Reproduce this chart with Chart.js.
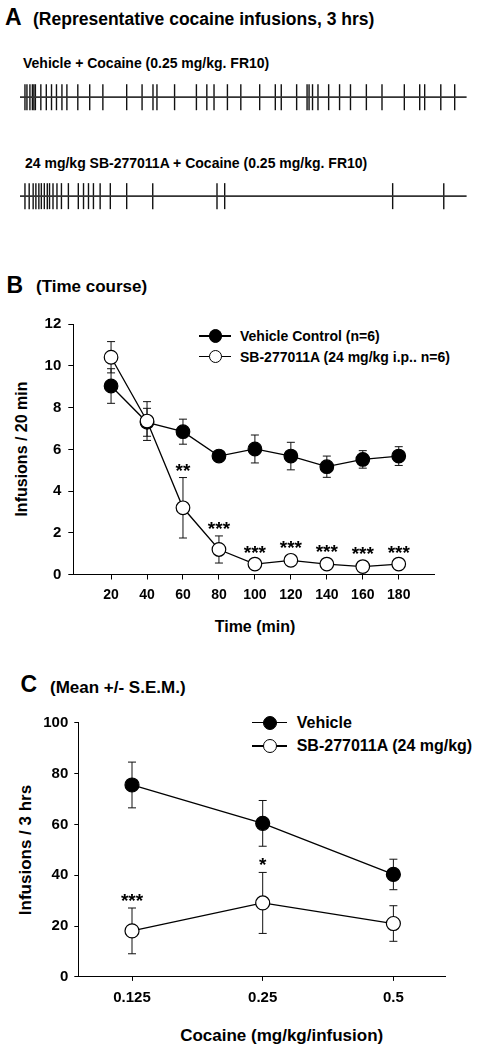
<!DOCTYPE html>
<html><head><meta charset="utf-8">
<script src="https://cdn.jsdelivr.net/npm/chart.js@4.4.1/dist/chart.umd.min.js"></script>
<style>
html,body{margin:0;padding:0;background:#fff;}
body{width:481px;height:1050px;position:relative;overflow:hidden;font-family:"Liberation Sans",Arial,sans-serif;font-weight:bold;color:#000;}
.t{position:absolute;white-space:nowrap;line-height:1;}
.rot{position:absolute;white-space:nowrap;line-height:1;transform:translate(-50%,-50%) rotate(-90deg);}
canvas{position:absolute;left:0;}
.lgline{position:absolute;height:1.5px;background:#000;}
.lgdot{position:absolute;border-radius:50%;border:1.2px solid #000;box-sizing:border-box;}
</style></head><body>

<div class="t" style="left:5px;top:6px;font-size:23px;">A</div>
<div class="t" style="left:33px;top:11px;font-size:17.5px;">(Representative cocaine infusions, 3 hrs)</div>
<div class="t" style="left:23px;top:56px;font-size:14px;">Vehicle + Cocaine (0.25 mg/kg. FR10)</div>
<div class="t" style="left:25px;top:156px;font-size:14px;">24 mg/kg SB-277011A + Cocaine (0.25 mg/kg. FR10)</div>

<div class="t" style="left:6.5px;top:273.5px;font-size:23px;">B</div>
<div class="t" style="left:36px;top:278px;font-size:17px;">(Time course)</div>
<div class="rot" style="left:21.7px;top:449.4px;font-size:16px;">Infusions / 20 min</div>
<div class="t" style="left:255px;top:619px;font-size:16px;transform:translateX(-50%);">Time (min)</div>

<div class="t" style="left:20.5px;top:672.5px;font-size:23px;">C</div>
<div class="t" style="left:50px;top:678.8px;font-size:17px;">(Mean +/- S.E.M.)</div>
<div class="rot" style="left:24.5px;top:849.7px;font-size:17px;">Infusions / 3 hrs</div>
<div class="t" style="left:281.7px;top:1026.5px;font-size:17px;transform:translateX(-50%);">Cocaine (mg/kg/infusion)</div>

<div id="legB"></div>
<div id="legC"></div>

<canvas id="chartA" width="481" height="260" style="top:0px"></canvas>
<canvas id="chartB" width="481" height="345" style="top:300px"></canvas>
<canvas id="chartC" width="481" height="350" style="top:700px"></canvas>

<script>
// ---------- DATA ----------
// Panel A: infusion event times (minutes within the 180-min session)
const rasterSpan = [0, 180];
const vehicleInfusionTimes = [2.0, 2.8, 4.0, 5.0, 5.6, 6.2, 8.4, 10.6, 12.7, 14.7, 16.9, 18.9, 23.3, 28.1, 33.4,
  43.0, 49.2, 53.6, 55.2, 62.3, 71.1, 75.3, 78.2, 83.6, 89.0, 96.6, 102.9, 105.3, 111.5, 115.7, 116.5, 117.9,
  120.1, 124.4, 128.8, 133.2, 139.6, 145.9, 154.9, 161.1, 163.1, 169.6, 175.2];
const sbInfusionTimes = [2.0, 3.7, 5.3, 6.4, 7.6, 8.6, 9.8, 11.0, 11.9, 13.3, 14.9, 16.7, 19.5, 23.5, 25.6, 27.6,
  29.6, 32.3, 36.4, 43.0, 53.5, 79.4, 82.5, 150.2, 170.8];

// Panel B: time course
const timeLabels = [20, 40, 60, 80, 100, 120, 140, 160, 180];
const vehicleMean = [9.04, 7.3, 6.85, 5.68, 6.02, 5.68, 5.17, 5.52, 5.68];
const vehicleSem  = [0.83, 0.67, 0.6, 0.25, 0.67, 0.66, 0.51, 0.42, 0.45];
const sbMean = [10.42, 7.36, 3.2, 1.2, 0.5, 0.68, 0.5, 0.38, 0.5];
const sbSem  = [0.75, 0.93, 1.45, 0.65, 0.2, 0.25, 0.25, 0.25, 0.2];
const sbStars = ['', '', '**', '***', '***', '***', '***', '***', '***'];
const yTicksB = [0, 2, 4, 6, 8, 10, 12];

// Panel C: dose response
const doseLabels = ['0.125', '0.25', '0.5'];
const vehicleDoseMean = [75.5, 60.4, 40.3];
const vehicleDoseSem  = [9, 9, 6];
const sbDoseMean = [18.1, 29.1, 21];
const sbDoseSem  = [9, 12, 7];
const sbDoseStars = ['***', '*', ''];
const yTicksC = [0, 20, 40, 60, 80, 100];

const legendB = ['Vehicle Control (n=6)', 'SB-277011A (24 mg/kg i.p.. n=6)'];
const legendC = ['Vehicle', 'SB-277011A (24 mg/kg)'];

// ---------- HELPERS ----------
const FONT = '"Liberation Sans", Arial, sans-serif';
const base = {responsive:false, animation:false, devicePixelRatio:1, events:[],
  plugins:{legend:{display:false}, tooltip:{enabled:false}}};

const errorBars = {
  id:'errorBars',
  beforeDatasetsDraw(chart){
    const ctx = chart.ctx, xs = chart.scales.x, ys = chart.scales.y;
    chart.data.datasets.forEach(ds => {
      if(!ds.errors) return;
      ctx.save(); ctx.strokeStyle = '#111'; ctx.lineWidth = 1;
      ds.data.forEach((p, i) => {
        const e = ds.errors[i]; if(!e) return;
        const x = xs.getPixelForValue(p.x), yt = ys.getPixelForValue(p.y + e), yb = ys.getPixelForValue(p.y - e);
        const c = ds.capHalf || 4;
        ctx.beginPath();
        ctx.moveTo(x, yt); ctx.lineTo(x, yb);
        ctx.moveTo(x - c, yt); ctx.lineTo(x + c, yt);
        ctx.moveTo(x - c, yb); ctx.lineTo(x + c, yb);
        ctx.stroke();
      });
      ctx.restore();
    });
  },
  afterDatasetsDraw(chart){
    const ctx = chart.ctx, xs = chart.scales.x, ys = chart.scales.y;
    chart.data.datasets.forEach(ds => {
      if(!ds.stars) return;
      ctx.save(); ctx.fillStyle = '#000'; ctx.font = 'bold 19px ' + FONT;
      ctx.textAlign = 'center'; ctx.textBaseline = 'alphabetic';
      ds.data.forEach((p, i) => {
        const s = ds.stars[i]; if(!s) return;
        const x = xs.getPixelForValue(p.x), yt = ys.getPixelForValue(p.y + (ds.errors[i] || 0));
        ctx.fillText(s, x, yt - 1);
      });
      ctx.restore();
    });
  }
};

function axisStyle(tickLen, pad, size){
  return {
    border:{display:true, color:'#000', width:1},
    grid:{display:true, drawOnChartArea:false, drawTicks:true, tickLength:tickLen, color:'#000', lineWidth:1},
    ticks:{color:'#000', padding:pad, font:{family:FONT, weight:'bold', size:size}}
  };
}

function legend(elId, labels, cfg){
  const host = document.getElementById(elId);
  labels.forEach((lab, i) => {
    const y = cfg.rows[i];
    const ln = document.createElement('div'); ln.className = 'lgline';
    ln.style.left = cfg.x0 + 'px'; ln.style.width = (cfg.x1 - cfg.x0) + 'px'; ln.style.top = (y - 0.75) + 'px';
    host.appendChild(ln);
    const d = document.createElement('div'); d.className = 'lgdot';
    d.style.width = d.style.height = (cfg.r * 2) + 'px';
    d.style.left = (cfg.cx - cfg.r) + 'px'; d.style.top = (y - cfg.r) + 'px';
    d.style.background = i === 0 ? '#000' : '#fff';
    host.appendChild(d);
    const t = document.createElement('div'); t.className = 't';
    t.style.left = cfg.tx + 'px'; t.style.top = (y - cfg.fs / 2) + 'px'; t.style.fontSize = cfg.fs + 'px';
    t.textContent = lab;
    host.appendChild(t);
  });
}
legend('legB', legendB, {rows:[336, 356.7], x0:199, x1:231, cx:215.7, r:6.8, tx:240, fs:14});
legend('legC', legendC, {rows:[722.7, 746], x0:252.3, x1:287.3, cx:270, r:7, tx:296.7, fs:16});

// ---------- PANEL A (raster) ----------
function rasterSets(times, row){
  return [
    {type:'line', data: rasterSpan.map(x => ({x, y:row})), borderColor:'#333', borderWidth:1.8, pointRadius:0, clip:false},
    {type:'scatter', data: times.map(x => ({x, y:row})), pointStyle:'line', rotation:90, pointRadius:13,
     borderColor:'#111', pointBorderColor:'#111', borderWidth:1.4, pointBorderWidth:1.4, clip:false}
  ];
}
new Chart(document.getElementById('chartA'), {
  type:'scatter',
  data:{datasets:[...rasterSets(vehicleInfusionTimes, 1), ...rasterSets(sbInfusionTimes, 2)]},
  options:Object.assign({}, base, {
    layout:{padding:{left:20, right:9, top:47.75, bottom:7.25}},
    scales:{
      x:{type:'linear', display:false, min:rasterSpan[0], max:rasterSpan[1]},
      y:{type:'linear', display:false, reverse:true, min:0.5, max:2.5}
    }
  })
});

// ---------- PANEL B ----------
new Chart(document.getElementById('chartB'), {
  type:'line',
  data:{datasets:[
    {label:legendB[1], data: timeLabels.map((x, i) => ({x, y:sbMean[i]})), errors:sbSem, stars:sbStars,
     borderColor:'#000', borderWidth:1.3, pointRadius:6.8, pointBackgroundColor:'#fff', pointBorderColor:'#000',
     pointBorderWidth:1.2, order:0, clip:false},
    {label:legendB[0], data: timeLabels.map((x, i) => ({x, y:vehicleMean[i]})), errors:vehicleSem,
     borderColor:'#000', borderWidth:1.3, pointRadius:6.8, pointBackgroundColor:'#000', pointBorderColor:'#000',
     pointBorderWidth:1.2, order:1, clip:false}
  ]},
  options:Object.assign({}, base, {
    layout:{padding:{left:0, right:46.3, top:24.3, bottom:0}},
    scales:{
      x:Object.assign(axisStyle(5, 7.1, 14), {type:'linear', min:-1, max:200,
        afterBuildTicks:s => { s.ticks = timeLabels.map(v => ({value:v})); },
        afterFit:s => { s.height = 70.5; }}),
      y:Object.assign(axisStyle(5, 7, 15), {type:'linear', min:0, max:12,
        afterBuildTicks:s => { s.ticks = yTicksB.map(v => ({value:v})); },
        afterFit:s => { s.width = 73.3; }})
    }
  }),
  plugins:[errorBars]
});

// ---------- PANEL C ----------
new Chart(document.getElementById('chartC'), {
  type:'line',
  data:{datasets:[
    {label:legendC[1], data: doseLabels.map((d, i) => ({x:i, y:sbDoseMean[i]})), errors:sbDoseSem, stars:sbDoseStars,
     borderColor:'#000', borderWidth:1.3, pointRadius:7, pointBackgroundColor:'#fff', pointBorderColor:'#000',
     pointBorderWidth:1.2, order:0, clip:false},
    {label:legendC[0], data: doseLabels.map((d, i) => ({x:i, y:vehicleDoseMean[i]})), errors:vehicleDoseSem,
     borderColor:'#000', borderWidth:1.3, pointRadius:7, pointBackgroundColor:'#000', pointBorderColor:'#000',
     pointBorderWidth:1.2, order:1, clip:false}
  ]},
  options:Object.assign({}, base, {
    layout:{padding:{left:0, right:36, top:22.7, bottom:0}},
    scales:{
      x:Object.assign(axisStyle(4, 8.4, 15), {type:'linear', min:-0.411, max:2.395,
        afterBuildTicks:s => { s.ticks = doseLabels.map((d, i) => ({value:i})); },
        ticks:Object.assign(axisStyle(4, 8.4, 15).ticks, {callback:v => doseLabels[v]}),
        afterFit:s => { s.height = 73.1; }}),
      y:Object.assign(axisStyle(4, 6, 15), {type:'linear', min:0, max:100,
        afterBuildTicks:s => { s.ticks = yTicksC.map(v => ({value:v})); },
        afterFit:s => { s.width = 78.3; }})
    }
  }),
  plugins:[errorBars]
});
</script>
</body></html>
